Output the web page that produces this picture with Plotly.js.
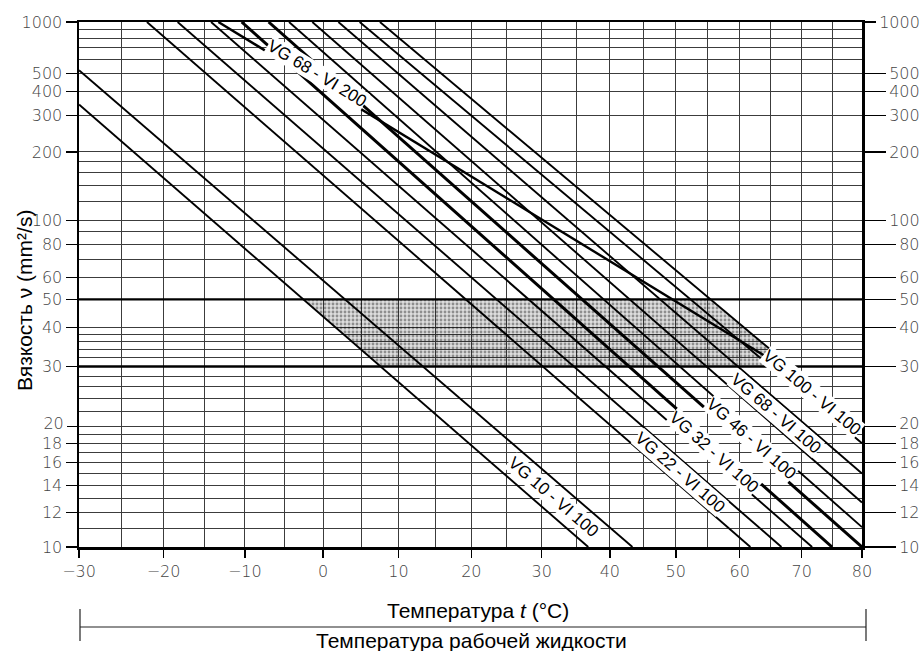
<!DOCTYPE html>
<html>
<head>
<meta charset="utf-8">
<script src="https://cdn.plot.ly/plotly-3.0.1.min.js"></script>
<style>
  html, body { margin: 0; padding: 0; background: #fff; }
  #chart { width: 923px; height: 651px; }
</style>
</head>
<body>
<div id="chart"></div>
<script>
// Viscosity–temperature chart on Ubbelohde–Walther scales:
// x = log(T in K), y = log(log(ν + 0.7)).

// ISO VG grades with VI 100; each grade is a band between a lower and an upper limit line.
const gradeNames = ['VG 10 - VI 100', 'VG 22 - VI 100', 'VG 32 - VI 100',
                    'VG 46 - VI 100', 'VG 68 - VI 100', 'VG 100 - VI 100'];
// lower limit line: start point and end point (t in °C, ν in mm²/s)
const lowerStartT  = [-30, -22.0, -14.2, -7.0, -1.4, 4.8];
const lowerStartNu = [343, 1000, 1000, 1000, 1000, 1000];
const lowerEndT    = [36.8, 61.7, 71.7, 80, 80, 80];
const lowerEndNu   = [10, 10, 10, 10.0, 12.7, 18.0];
// upper limit line
const upperStartT  = [-30, -18.3, -10.4, -4.4, 2.0, 7.5];
const upperStartNu = [523, 1000, 1000, 1000, 1000, 1000];
const upperEndT    = [43.4, 66.7, 75.0, 80, 80, 80];
const upperEndNu   = [10, 10, 10, 11.1, 15.0, 20.0];

// VG 68 with VI 200
const vi200Name = 'VG 68 - VI 200';
const vi200T  = [-13.3, 63.9];
const vi200Nu = [1000, 32.5];

// recommended operating viscosity range
const rangeNu = [30, 50];

// axis ticks
const tempTicks = [-30, -20, -10, 0, 10, 20, 30, 40, 50, 60, 70, 80];
const tempTickText = ['\u221230', '\u221220', '\u221210', '0', '10', '20', '30', '40', '50', '60', '70', '80'];
const tempGrid = [-25, -15, -5, 5, 15, 25, 35, 45, 55, 65, 75];
const nuTicks = [10, 12, 14, 16, 18, 20, 30, 40, 50, 60, 80, 100, 200, 300, 400, 500, 1000];
const nuGrid = [11, 13, 15, 17, 19, 22, 24, 26, 28, 32, 34, 36, 38, 70, 90,
                120, 140, 160, 180, 600, 700, 800, 900];

// ---- scale helpers ----
const K = t => t + 273.15;
const W = nu => Math.log10(Math.log10(nu + 0.7));
const U = t => Math.log10(K(t));

const xRange = [U(-30), U(80)];
const yRange = [W(10), W(1000)];

const M = { l: 79, r: 61, t: 22, b: 104 };
const plotW = 923 - M.l - M.r;
const plotH = 651 - M.t - M.b;

function lineTrace(t, nu, width) {
  return {
    type: 'scatter', mode: 'lines',
    x: t.map(K), y: nu.map(W),
    line: { color: '#000', width: width },
    hoverinfo: 'skip', showlegend: false
  };
}

// u (log K) on a straight line at a given W
function uAtW(t, nu, w) {
  const u1 = U(t[0]), u2 = U(t[1]), w1 = W(nu[0]), w2 = W(nu[1]);
  return u1 + (w - w1) * (u2 - u1) / (w2 - w1);
}
// on-screen angle of a line, degrees clockwise
function screenAngle(t, nu) {
  const dx = (U(t[1]) - U(t[0])) / (xRange[1] - xRange[0]) * plotW;
  const dy = (W(nu[0]) - W(nu[1])) / (yRange[1] - yRange[0]) * plotH;
  return Math.atan2(dy, dx) * 180 / Math.PI;
}

const traces = [];

// shaded operating range between the VG 10 lower line and the VG 100 upper line
{
  const loT = [lowerStartT[0], lowerEndT[0]], loNu = [lowerStartNu[0], lowerEndNu[0]];
  const hiT = [upperStartT[5], upperEndT[5]], hiNu = [upperStartNu[5], upperEndNu[5]];
  const wA = W(rangeNu[1]), wB = W(rangeNu[0]);
  const xs = [uAtW(loT, loNu, wA), uAtW(hiT, hiNu, wA), uAtW(hiT, hiNu, wB), uAtW(loT, loNu, wB), uAtW(loT, loNu, wA)]
    .map(u => Math.pow(10, u));
  traces.push({
    type: 'scatter', mode: 'none', x: xs, y: [wA, wA, wB, wB, wA],
    fill: 'toself', fillcolor: 'rgba(0,0,0,0.14)',
    fillpattern: { shape: '.', size: 4, solidity: 0.4, fgcolor: 'rgba(0,0,0,0.36)', bgcolor: 'rgba(0,0,0,0.13)' },
    hoverinfo: 'skip', showlegend: false
  });
}

// range limits at 30 and 50 mm²/s
rangeNu.forEach(v => traces.push(lineTrace([-30, 80], [v, v], 2.4)));

// grade bands
const thickLower = [false, false, false, true, false, false];
const thickUpper = [false, false, true, false, false, false];
for (let i = 0; i < gradeNames.length; i++) {
  traces.push(lineTrace([lowerStartT[i], lowerEndT[i]], [lowerStartNu[i], lowerEndNu[i]], thickLower[i] ? 3 : 1.9));
  traces.push(lineTrace([upperStartT[i], upperEndT[i]], [upperStartNu[i], upperEndNu[i]], thickUpper[i] ? 3 : 1.9));
}
traces.push(lineTrace(vi200T, vi200Nu, 2.4));

// empty traces so the extra tick axes are drawn
['y2', 'y3', 'y4', 'y5', 'y6'].forEach(ax => traces.push({ type: 'scatter', x: [], y: [], yaxis: ax, showlegend: false, hoverinfo: 'skip' }));

// ---- labels along the bands ----
const labelFont = { family: 'Liberation Sans, Arial, sans-serif', size: 17, color: '#000' };
const labelNu = [13.1, 15.1, 17.05, 18.5, 21.8, 25];
const annotations = [];
for (let i = 0; i < gradeNames.length; i++) {
  const loT = [lowerStartT[i], lowerEndT[i]], loNu = [lowerStartNu[i], lowerEndNu[i]];
  const hiT = [upperStartT[i], upperEndT[i]], hiNu = [upperStartNu[i], upperEndNu[i]];
  const w = W(labelNu[i]);
  const u = (uAtW(loT, loNu, w) + uAtW(hiT, hiNu, w)) / 2;
  annotations.push({
    x: u, y: w, xref: 'x', yref: 'y', text: gradeNames[i], showarrow: false,
    textangle: screenAngle(hiT, hiNu), font: labelFont,
    bgcolor: '#fff', borderpad: 0, xanchor: 'center', yanchor: 'middle'
  });
}
{
  const w = W(450);
  annotations.push({
    x: uAtW(vi200T, vi200Nu, w), y: w, xref: 'x', yref: 'y', text: vi200Name, showarrow: false,
    textangle: screenAngle(vi200T, vi200Nu), font: labelFont, yshift: 9,
    bgcolor: '#fff', borderpad: 0, xanchor: 'center', yanchor: 'middle'
  });
}

const titleFont = { family: 'Liberation Sans, Arial, sans-serif', size: 21, color: '#000' };
// y title
annotations.push({
  xref: 'paper', yref: 'paper', x: 0, y: (547 - 301) / plotH, xshift: -54,
  text: 'Вязкость ν (mm²/s)', textangle: -90, showarrow: false, font: titleFont,
  xanchor: 'center', yanchor: 'middle'
});
// x title
annotations.push({
  xref: 'paper', yref: 'paper', x: (478 - M.l) / plotW, y: (547 - 610) / plotH,
  text: 'Температура <i>t</i> (°C)', showarrow: false, font: titleFont,
  xanchor: 'center', yanchor: 'middle'
});
// bracket caption
annotations.push({
  xref: 'paper', yref: 'paper', x: (471 - M.l) / plotW, y: (547 - 640) / plotH,
  text: 'Температура рабочей жидкости', showarrow: false,
  font: { family: 'Liberation Sans, Arial, sans-serif', size: 21, color: '#000' },
  xanchor: 'center', yanchor: 'middle'
});

// bracket under the temperature axis
const px = v => (v - M.l) / plotW;
const py = v => (547 - v) / plotH;
const shapes = [
  { type: 'line', xref: 'paper', yref: 'paper', x0: px(80), x1: px(866), y0: py(627), y1: py(627), line: { color: '#222', width: 1.2 } },
  { type: 'line', xref: 'paper', yref: 'paper', x0: px(80), x1: px(80), y0: py(609), y1: py(641), line: { color: '#222', width: 1.2 } },
  { type: 'line', xref: 'paper', yref: 'paper', x0: px(866), x1: px(866), y0: py(609), y1: py(641), line: { color: '#222', width: 1.2 } }
];

const tickFont = { family: 'DejaVu Sans, sans-serif', size: 16, color: '#444', weight: 200 };
const gridColor = '#3c3c3c';

// the "20" label sits a little higher so it clears "18"
const nuTicksMain = nuTicks.filter(v => v !== 20);
const nuLifted = [20];

function tickAxis(vals, side, len, shift) {
  return {
    overlaying: 'y', side: side, range: yRange, tickmode: 'array',
    tickvals: vals.map(W), ticktext: vals.map(String),
    ticks: 'outside', ticklen: len, tickwidth: 1.2, tickcolor: '#000',
    ticklabelshift: shift || 0,
    showgrid: false, zeroline: false, showline: false, tickfont: tickFont, fixedrange: true
  };
}

const layout = {
  width: 923, height: 651,
  margin: { l: M.l, r: M.r, t: M.t, b: M.b, pad: 0 },
  paper_bgcolor: '#fff', plot_bgcolor: '#fff',
  showlegend: false,
  xaxis: {
    type: 'log', range: xRange, tickmode: 'array',
    tickvals: tempTicks.map(K), ticktext: tempTickText,
    ticks: 'outside', ticklen: 8, tickwidth: 1.5, tickcolor: '#000',
    showgrid: true, gridcolor: gridColor, gridwidth: 1,
    minor: { tickmode: 'array', tickvals: tempGrid.map(K), showgrid: true, gridcolor: gridColor, gridwidth: 1, ticks: '' },
    showline: true, linewidth: 2.5, linecolor: '#000', mirror: true,
    zeroline: false, tickfont: tickFont, fixedrange: true
  },
  yaxis: {
    range: yRange, tickmode: 'array',
    tickvals: nuTicksMain.map(W), ticktext: nuTicksMain.map(String),
    ticks: 'outside', ticklen: 11, tickwidth: 1.2, tickcolor: '#000',
    showgrid: true, gridcolor: gridColor, gridwidth: 1,
    minor: { tickmode: 'array', tickvals: nuGrid.concat(nuLifted).map(W), showgrid: true, gridcolor: gridColor, gridwidth: 1, ticks: '' },
    showline: true, linewidth: 2.5, linecolor: '#000', mirror: true,
    zeroline: false, tickfont: tickFont, fixedrange: true
  },
  yaxis2: tickAxis([1000], 'right', 13),
  yaxis3: tickAxis([500, 400, 300, 200, 100], 'right', 23),
  yaxis4: tickAxis([80, 60, 50, 40, 30, 18, 16, 14, 12, 10], 'right', 33),
  yaxis5: tickAxis(nuLifted, 'right', 33, -3),
  yaxis6: tickAxis(nuLifted, 'left', 11, -3),
  annotations: annotations,
  shapes: shapes
};

Plotly.newPlot('chart', traces, layout, { displayModeBar: false, staticPlot: true });
</script>
</body>
</html>
